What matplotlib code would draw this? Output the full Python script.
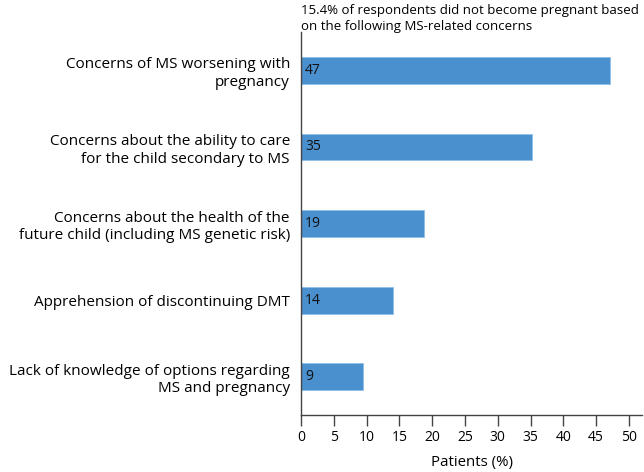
import matplotlib
matplotlib.use("Agg")
import matplotlib.pyplot as plt

# 回答カテゴリ（上から順）
categories = [
    "Concerns of MS worsening with\npregnancy",
    "Concerns about the ability to care\nfor the child secondary to MS",
    "Concerns about the health of the\nfuture child (including MS genetic risk)",
    "Apprehension of discontinuing DMT",
    "Lack of knowledge of options regarding\nMS and pregnancy",
]
values = [47.1, 35.2, 18.7, 14.1, 9.4]
value_labels = ["47", "35", "19", "14", "9"]
xticks = list(range(0, 55, 5))

title_text = "15.4% of respondents did not become pregnant based\non the following MS-related concerns"


def main():
    plt.rcParams["font.family"] = ["Open Sans", "DejaVu Sans"]

    fig = plt.figure(figsize=(6.44, 4.72), dpi=100)
    ax = fig.add_axes([0.4674, 0.1208, 0.5296, 0.8112])

    ypos = list(range(len(categories)))
    ax.barh(ypos, values, height=0.35, color="#4a8fce", edgecolor="#8fc0ea", linewidth=0.6)

    for y, v, lab in zip(ypos, values, value_labels):
        ax.text(0.6, y, lab, va="center", ha="left", fontsize=10, color="#111111")

    ax.set_yticks(ypos)
    ax.set_yticklabels(categories, fontsize=11, ha="right", multialignment="right", linespacing=1.25)
    ax.tick_params(axis="y", length=0, pad=8)
    ax.set_ylim(len(categories) - 0.5, -0.5)

    ax.set_xlim(0, 52)
    ax.set_xticks(xticks)
    ax.tick_params(axis="x", direction="out", length=8, width=1, color="#444444", labelsize=10, pad=3)
    ax.set_xlabel("Patients (%)", fontsize=10.8, labelpad=7)

    for s in ["top", "right"]:
        ax.spines[s].set_visible(False)
    for s in ["left", "bottom"]:
        ax.spines[s].set_color("#444444")
        ax.spines[s].set_linewidth(1.0)

    fig.text(0.4674, 0.992, title_text, ha="left", va="top", fontsize=9.5, linespacing=1.35)

    fig.savefig("out.png", dpi=100)


if __name__ == "__main__":
    main()
